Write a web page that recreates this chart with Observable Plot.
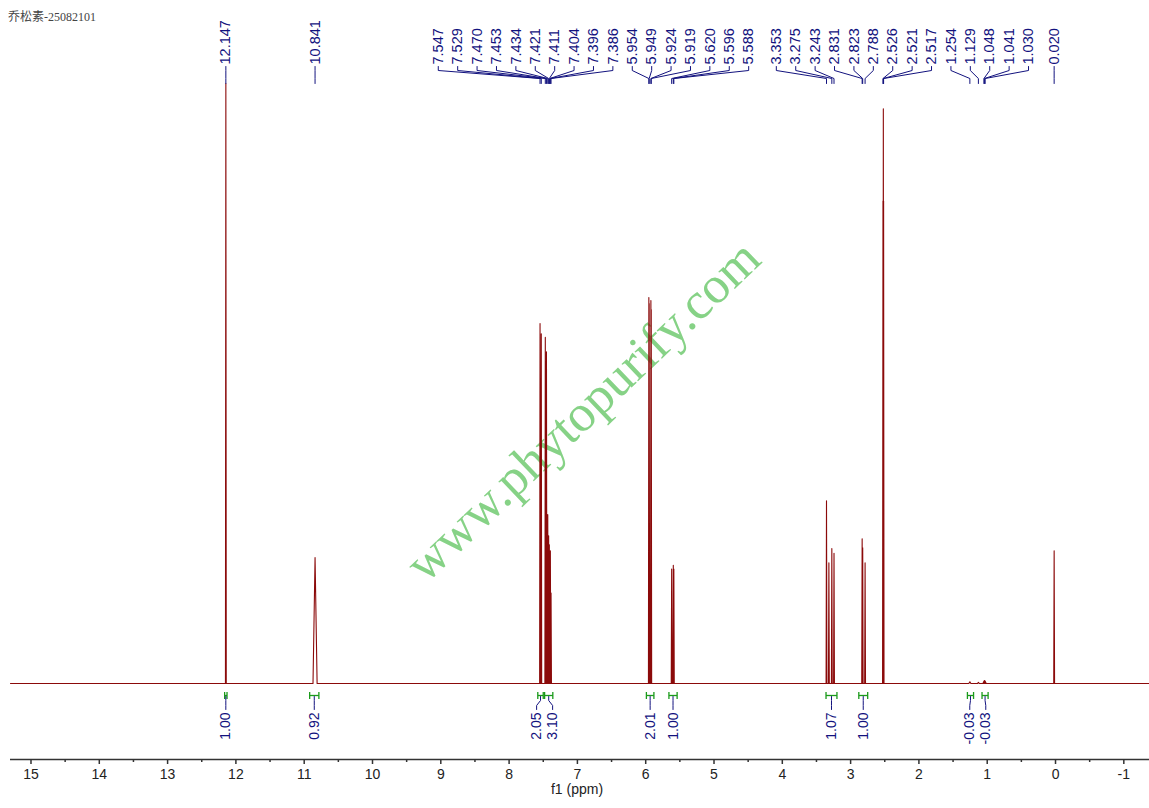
<!DOCTYPE html>
<html>
<head>
<meta charset="utf-8">
<script src="https://cdn.jsdelivr.net/npm/d3@7"></script>
<script src="https://cdn.jsdelivr.net/npm/@observablehq/plot@0.6"></script>
<style>
  body { margin: 0; background: white; }
  #wrap { position: relative; width: 1149px; height: 808px; }
  #title { position: absolute; left: 8px; top: 7px; font: 12px "Liberation Serif", "Noto Sans CJK SC", serif; color: #444; }
</style>
</head>
<body>
<div id="wrap">
  <div id="title">乔松素-25082101</div>
  <div id="chart"></div>
</div>
<script>
// labelled peaks (ppm) and their heights
const peakPpm = [12.147, 10.841, 7.547, 7.529, 7.470, 7.453, 7.434, 7.421, 7.411, 7.404, 7.396, 7.386,
  5.954, 5.949, 5.924, 5.919, 5.620, 5.596, 5.588, 3.353, 3.275, 3.243, 2.831, 2.823, 2.788,
  2.526, 2.521, 2.517, 1.254, 1.129, 1.048, 1.041, 1.030, 0.020];
const peakHeight = [0.995, 0.209, 0.597, 0.58, 0.574, 0.55, 0.28, 0.245, 0.23, 0.21, 0.22, 0.15,
  0.64, 0.63, 0.635, 0.62, 0.19, 0.196, 0.19, 0.303, 0.224, 0.216, 0.24, 0.225, 0.2,
  0.8, 0.953, 0.8, 0.003, 0.002, 0.004, 0.005, 0.004, 0.22];
const peakHalfWidth = [0.006, 0.03, 0.006, 0.006, 0.006, 0.006, 0.006, 0.006, 0.006, 0.006, 0.006, 0.006,
  0.006, 0.006, 0.006, 0.006, 0.006, 0.006, 0.006, 0.006, 0.006, 0.006, 0.006, 0.006, 0.006,
  0.006, 0.006, 0.006, 0.015, 0.015, 0.015, 0.015, 0.015, 0.006];

// unlabelled signal (water) inside the 3.3 multiplet
const extraPpm = [3.318];
const extraHeight = [0.2];

// integrals
const integralFrom = [12.165, 10.92, 7.58, 7.48, 5.99, 5.66, 3.36, 2.88, 1.29, 1.076];
const integralTo = [12.13, 10.785, 7.50, 7.36, 5.88, 5.54, 3.20, 2.75, 1.20, 0.987];
const integralValue = ["1.00", "0.92", "2.05", "3.10", "2.01", "1.00", "1.07", "1.00", "-0.03", "-0.03"];

const xTicks = d3.range(15, -2, -1);
const xMinorTicks = d3.range(14.5, -1.5, -1);

// layout
const W = 1149, H = 808, mL = 10, mR = 0, mT = 80, mB = 49;
const xDomain = [15.30, -1.376], yDomain = [-0.126, 1];
const xPx = d3.scaleLinear(xDomain, [mL, W - mR]);
const yPx = d3.scaleLinear(yDomain, [H - mB, mT]);
const yAt = px => yPx.invert(px);

const ink = "#12127e";
const red = "#8b0a0a";
const green = "#1a9a1a";

// spectrum polyline from the peak list
const allPeaks = peakPpm.map((p, i) => ({p, h: peakHeight[i], w: peakHalfWidth[i]}))
  .concat(extraPpm.map((p, i) => ({p, h: extraHeight[i], w: 0.006})))
  .sort((a, b) => b.p - a.p);
const spectrum = [{x: xDomain[0], y: 0}];
for (const k of allPeaks) {
  spectrum.push({x: k.p + k.w, y: 0}, {x: k.p, y: k.h}, {x: k.p - k.w, y: 0});
}
spectrum.push({x: xDomain[1], y: 0});

// push labels apart so they don't collide (pixels, ascending)
function spread(xs, gap) {
  let clusters = xs.map((x, i) => ({sum: x, n: 1, start: x, idx: [i]}));
  let again = true;
  while (again) {
    again = false;
    const out = [];
    for (const c of clusters) {
      const prev = out[out.length - 1];
      if (prev && prev.start + prev.n * gap > c.start) {
        prev.sum += c.sum; prev.n += c.n; prev.idx = prev.idx.concat(c.idx);
        prev.start = prev.sum / prev.n - (prev.n - 1) * gap / 2;
        again = true;
      } else out.push({...c});
    }
    clusters = out;
  }
  const res = [];
  for (const c of clusters) c.idx.forEach((i, j) => res[i] = c.start + j * gap);
  return res;
}

const labelPx = spread(peakPpm.map(p => xPx(p)), 19.4);
const peakLabels = peakPpm.map((p, i) => ({p, lx: xPx.invert(labelPx[i])}));
const peakLeaders = peakLabels.flatMap((d, i) => [
  {id: i, x: d.lx, y: yAt(66)}, {id: i, x: d.lx, y: yAt(70)},
  {id: i, x: d.p, y: yAt(78)}, {id: i, x: d.p, y: yAt(83)}
]);

const integrals = integralFrom.map((a, i) => ({a, b: integralTo[i], c: (a + integralTo[i]) / 2, v: integralValue[i]}));
const intPx = spread(integrals.map(d => xPx(d.c)), 16);
integrals.forEach((d, i) => d.lx = xPx.invert(intPx[i]));
const intLeaders = integrals.flatMap((d, i) => [
  {id: i, x: d.c, y: yAt(696)}, {id: i, x: d.c, y: yAt(700)},
  {id: i, x: d.lx, y: yAt(705)}, {id: i, x: d.lx, y: yAt(709)}
]);
const bracketSegs = integrals.flatMap(d => [
  {x1: d.a, x2: d.b, y1: yAt(695), y2: yAt(695)},
  {x1: d.a, x2: d.a, y1: yAt(691.5), y2: yAt(698.5)},
  {x1: d.b, x2: d.b, y1: yAt(691.5), y2: yAt(698.5)}
]);

const chart = Plot.plot({
  width: W, height: H,
  marginLeft: mL, marginRight: mR, marginTop: mT, marginBottom: mB,
  style: {fontFamily: "Liberation Sans, Arial, sans-serif", fontSize: "14px", background: "white", overflow: "visible"},
  x: {domain: xDomain},
  y: {domain: yDomain, axis: null},
  marks: [
    Plot.text(["www.phytopurify.com"], {frameAnchor: "middle", dx: 3, dy: -9, rotate: -43.7, text: d => d,
      fontSize: 52, fontFamily: "Liberation Serif, serif", fill: "#86d286"}),
    Plot.line(spectrum, {x: "x", y: "y", stroke: red, strokeWidth: 1.1}),
    // peak labels
    Plot.line(peakLeaders, {x: "x", y: "y", z: "id", stroke: ink, strokeWidth: 1}),
    Plot.text(peakLabels, {x: "lx", y: () => yAt(64), text: d => d.p.toFixed(3), rotate: -90,
      textAnchor: "start", fill: ink, fontSize: 14.5}),
    // integrals
    Plot.link(bracketSegs, {x1: "x1", x2: "x2", y1: "y1", y2: "y2", stroke: green, strokeWidth: 1.3}),
    Plot.line(intLeaders, {x: "x", y: "y", z: "id", stroke: ink, strokeWidth: 1}),
    Plot.text(integrals, {x: "lx", y: () => yAt(712), text: "v", rotate: -90,
      textAnchor: "end", fill: ink, fontSize: 14}),
    // axis
    Plot.ruleY([yDomain[0]], {stroke: "#333", strokeWidth: 1.6}),
    Plot.axisX(xTicks, {tickSize: 5, tickPadding: 5, tickFormat: d => String(d), stroke: "#333",
      strokeWidth: 1.5, fill: "#222", fontSize: 14, label: null}),
    Plot.axisX(xMinorTicks, {tickSize: 3, tickFormat: () => "", stroke: "#333", strokeWidth: 1.5, label: null}),
    Plot.text(["f1 (ppm)"], {frameAnchor: "bottom", dx: -3, dy: 34, text: d => d, fill: "#222", fontSize: 14})
  ]
});
document.querySelector("#chart").append(chart);
</script>
</body>
</html>
